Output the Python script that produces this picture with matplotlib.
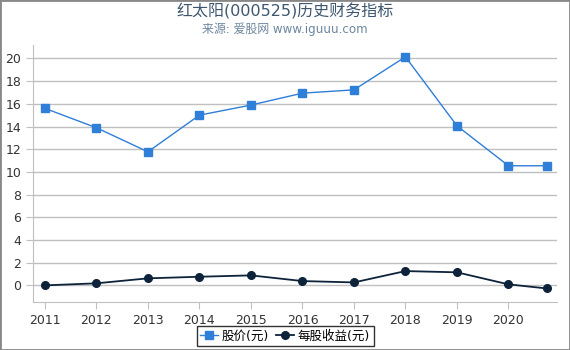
import matplotlib
matplotlib.use('Agg')
import matplotlib.pyplot as plt
from matplotlib.patches import Rectangle

plt.rcParams['font.family'] = ['DejaVu Sans', 'Noto Sans CJK SC']

# 数据
years = [2011, 2012, 2013, 2014, 2015, 2016, 2017, 2018, 2019, 2020, 2020.74]
price = [15.6, 13.89, 11.77, 15.0, 15.89, 16.94, 17.23, 20.14, 14.06, 10.54, 10.54]
eps = [0.0, 0.18, 0.62, 0.76, 0.88, 0.38, 0.26, 1.26, 1.15, 0.09, -0.27]
xticks = list(range(2011, 2021))
yticks = list(range(0, 21, 2))

fig = plt.figure(figsize=(5.7, 3.5), dpi=100)
ax = fig.add_axes([0.058, 0.137, 0.919, 0.734])

ax.plot(years, price, color='#2f7ed8', lw=1, marker='s', ms=6,
        label='股价(元)', zorder=3)
ax.plot(years, eps, color='#0d233a', lw=1.3, marker='o', ms=5.5,
        label='每股收益(元)', zorder=3)

ax.set_xlim(2010.77, 2020.94)
ax.set_ylim(-1.47, 21.17)
ax.set_xticks(xticks)
ax.set_yticks(yticks)
ax.grid(axis='y', color='#c0c0c0', lw=1)
ax.set_axisbelow(True)

for s in ['top', 'right']:
    ax.spines[s].set_visible(False)
ax.spines['left'].set_color('#c0c0c0')
ax.spines['bottom'].set_color('#c0c0c0')
ax.tick_params(axis='both', colors='#c0c0c0', labelcolor='#333333',
               labelsize=9, length=5)

fig.text(0.5, 0.968, '红太阳(000525)历史财务指标', ha='center', va='center',
         fontsize=11.5, color='#3e576f')
fig.text(0.5, 0.917, '来源: 爱股网 www.iguuu.com', ha='center', va='center',
         fontsize=8.6, color='#6d869f')

leg = fig.legend(loc='center', bbox_to_anchor=(0.5, 0.04), ncol=2,
                 fontsize=9, frameon=True, fancybox=False, handlelength=1.4,
                 handletextpad=0.3, columnspacing=0.6, borderpad=0.3)
leg.get_frame().set_edgecolor('black')
leg.get_frame().set_linewidth(1)

fig.patches.append(Rectangle((0, 0), 1, 1, transform=fig.transFigure,
                             fill=False, edgecolor='#888888', lw=2))

fig.savefig('out.png', dpi=100)
